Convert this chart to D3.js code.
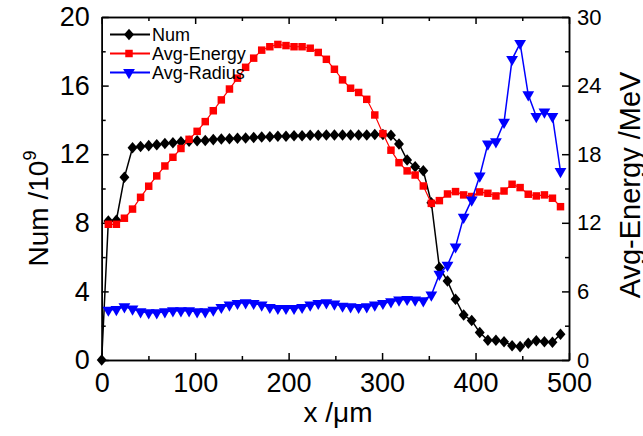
<!DOCTYPE html>
<html>
<head>
<meta charset="utf-8">
<script src="https://cdn.jsdelivr.net/npm/d3@7"></script>
<style>
  body { margin: 0; background: #fff; }
  text { font-family: "Liberation Sans", Arial, sans-serif; }
</style>
</head>
<body>
<div id="chart"></div>
<script>
const width = 643;
const height = 436;

// sample positions (µm)
const xPos = [0, 7.1, 15.7, 24.3, 33.0, 41.6, 50.3, 58.9, 67.6, 76.2, 84.8, 93.5, 102.1, 110.8, 119.4,
    128.0, 136.7, 145.3, 154.0, 162.6, 171.2, 179.9, 188.5, 197.2, 205.8, 214.4, 223.1, 231.7, 240.4,
    249.0, 257.7, 266.3, 274.9, 283.6, 292.2, 300.9, 309.5, 318.1, 326.8, 335.4, 344.1, 352.7, 361.3,
    370.0, 378.6, 387.3, 395.9, 404.5, 413.2, 421.8, 430.5, 439.1, 447.7, 456.4, 465.0, 473.7, 482.3, 490.9];

// Num /10^9 (left axis), starts at x = 0
const numValues = [0, 8.1, 8.15, 10.65, 12.38, 12.45, 12.5, 12.55, 12.62, 12.67, 12.72, 12.76, 12.78,
    12.8, 12.85, 12.88, 12.9, 12.93, 12.95, 12.98, 13.0, 13.02, 13.05, 13.05, 13.07, 13.08, 13.1, 13.1,
    13.12, 13.12, 13.12, 13.12, 13.12, 13.12, 13.15, 13.15, 13.1, 12.6, 11.66, 11.27, 11.04, 9.17, 5.4,
    4.6, 3.54, 2.62, 2.3, 1.6, 1.15, 1.15, 1.07, 0.83, 0.78, 0.98, 1.12, 1.07, 1.03, 1.5];

// Avg-Energy /MeV (right axis), starts at the second sample
const energyValues = [11.87, 11.87, 12.4, 13.2, 14.23, 15.2, 16.1, 16.97, 17.73, 18.5, 19.3, 20.0,
    20.85, 21.8, 22.75, 23.7, 24.65, 25.6, 26.4, 27.1, 27.4, 27.6, 27.5, 27.4, 27.4, 27.27, 26.9, 26.3,
    25.43, 24.5, 23.77, 23.4, 22.8, 21.43, 19.8, 18.35, 17.26, 16.54, 16.18, 15.22, 13.7, 13.94, 14.52,
    14.73, 14.44, 14.3, 14.7, 14.58, 14.35, 14.78, 15.37, 15.08, 14.5, 14.35, 14.44, 14.15, 13.41];

// Avg-Radius (drawn against the right axis), starts at the second sample
const radiusValues = [4.37, 4.43, 4.66, 4.46, 4.23, 4.14, 4.14, 4.23, 4.31, 4.31, 4.31, 4.23, 4.23,
    4.37, 4.61, 4.81, 4.96, 5.02, 4.96, 4.81, 4.61, 4.52, 4.52, 4.52, 4.61, 4.81, 4.96, 5.02, 4.9, 4.72,
    4.67, 4.61, 4.67, 4.81, 4.96, 5.1, 5.25, 5.31, 5.25, 5.19, 5.69, 7.5, 8.3, 9.9, 12.5, 14.0, 16.1,
    18.9, 19.1, 20.8, 26.3, 27.7, 23.2, 21.3, 21.7, 21.3, 16.5];

const xTicks = [0, 100, 200, 300, 400, 500];
const leftTicks = [0, 4, 8, 12, 16, 20];
const rightTicks = [0, 6, 12, 18, 24, 30];
const legendNames = ["Num", "Avg-Energy", "Avg-Radius"];

const margin = { left: 101.7, right: 569, top: 17, bottom: 360 };

const svg = d3.select("#chart").append("svg")
    .attr("width", width)
    .attr("height", height);

const x = d3.scaleLinear().domain([0, 500]).range([margin.left, margin.right]);
const yL = d3.scaleLinear().domain([0, 20]).range([margin.bottom, margin.top]);
const yR = d3.scaleLinear().domain([0, 30]).range([margin.bottom, margin.top]);

const numData = numValues.map((v, i) => ({ x: xPos[i], y: v }));
const energyData = energyValues.map((v, i) => ({ x: xPos[i + 1], y: v }));
const radiusData = radiusValues.map((v, i) => ({ x: xPos[i + 1], y: v }));

// axes (ticks inward)
function minorOf(ticks) {
    const out = [];
    for (let i = 0; i < ticks.length - 1; i++) out.push((ticks[i] + ticks[i + 1]) / 2);
    return out;
}

const axisW = 1.5;
const fontTick = 27;

svg.append("g").attr("transform", `translate(0,${margin.bottom})`)
    .call(d3.axisBottom(x).tickValues(xTicks).tickSize(-7).tickPadding(13).tickSizeOuter(0))
    .call(g => g.selectAll("text").style("font-size", fontTick + "px"));
svg.append("g").attr("transform", `translate(0,${margin.bottom})`)
    .call(d3.axisBottom(x).tickValues(minorOf(xTicks)).tickSize(-4).tickFormat("").tickSizeOuter(0));
svg.append("g").attr("transform", `translate(0,${margin.top})`)
    .call(d3.axisTop(x).tickValues(xTicks).tickSize(-7).tickFormat("").tickSizeOuter(0));
svg.append("g").attr("transform", `translate(0,${margin.top})`)
    .call(d3.axisTop(x).tickValues(minorOf(xTicks)).tickSize(-4).tickFormat("").tickSizeOuter(0));

svg.append("g").attr("transform", `translate(${margin.left},0)`)
    .call(d3.axisLeft(yL).tickValues(leftTicks).tickSize(-7).tickPadding(12).tickSizeOuter(0))
    .call(g => g.selectAll("text").style("font-size", fontTick + "px"));
svg.append("g").attr("transform", `translate(${margin.left},0)`)
    .call(d3.axisLeft(yL).tickValues(minorOf(leftTicks)).tickSize(-4).tickFormat("").tickSizeOuter(0));

svg.append("g").attr("transform", `translate(${margin.right},0)`)
    .call(d3.axisRight(yR).tickValues(rightTicks).tickSize(-7).tickPadding(8).tickSizeOuter(0))
    .call(g => g.selectAll("text").style("font-size", "22px"));
svg.append("g").attr("transform", `translate(${margin.right},0)`)
    .call(d3.axisRight(yR).tickValues(minorOf(rightTicks)).tickSize(-4).tickFormat("").tickSizeOuter(0));

svg.selectAll(".domain").attr("stroke-width", axisW);
svg.selectAll(".tick line").attr("stroke-width", axisW);
svg.selectAll(".tick text").attr("fill", "#000");

// axis titles
svg.append("text")
    .attr("transform", `translate(48,${(margin.top + margin.bottom) / 2 + 20}) rotate(-90)`)
    .attr("text-anchor", "middle")
    .style("font-size", "28px")
    .text("Num /10")
    .append("tspan").attr("dy", -12).style("font-size", "18px").text("9");

svg.append("text")
    .attr("x", 338).attr("y", 422)
    .attr("text-anchor", "middle")
    .style("font-size", "28px")
    .text("x /\u03bcm");

svg.append("text")
    .attr("transform", `translate(640,185) rotate(-90)`)
    .attr("text-anchor", "middle")
    .style("font-size", "29px")
    .text("Avg-Energy /MeV");

// series
const diamondType = {
    draw(ctx, size) {
        const w = Math.sqrt(size) * 0.62, h = Math.sqrt(size) * 0.72;
        ctx.moveTo(0, -h); ctx.lineTo(w, 0); ctx.lineTo(0, h); ctx.lineTo(-w, 0); ctx.closePath();
    }
};
const diamond = d3.symbol().type(diamondType).size(64);
const square = d3.symbol().type(d3.symbolSquare).size(56);
const triangle = d3.symbol().type(d3.symbolTriangle).size(60);

const series = [
    { data: numData, y: yL, color: "#000000", sym: diamond, rot: 0, lw: 1.5, name: legendNames[0] },
    { data: energyData, y: yR, color: "#ff0000", sym: square, rot: 0, lw: 1.2, name: legendNames[1] },
    { data: radiusData, y: yR, color: "#0000ff", sym: triangle, rot: 180, lw: 1.5, name: legendNames[2] }
];

series.forEach(s => {
    const line = d3.line().x(d => x(d.x)).y(d => s.y(d.y));
    svg.append("path")
        .datum(s.data)
        .attr("fill", "none")
        .attr("stroke", s.color)
        .attr("stroke-width", s.lw)
        .attr("d", line);
    svg.append("g")
        .selectAll("path")
        .data(s.data)
        .enter().append("path")
        .attr("d", s.sym)
        .attr("fill", s.color)
        .attr("transform", d => `translate(${x(d.x)},${s.y(d.y)}) rotate(${s.rot})`);
});

// legend
const legend = svg.append("g");
series.forEach((s, i) => {
    const ly = 34.5 + i * 19;
    legend.append("line")
        .attr("x1", 110).attr("x2", 150)
        .attr("y1", ly).attr("y2", ly)
        .attr("stroke", s.color).attr("stroke-width", 1.8);
    legend.append("path")
        .attr("d", s.sym)
        .attr("fill", s.color)
        .attr("transform", `translate(129,${ly}) rotate(${s.rot})`);
    legend.append("text")
        .attr("x", 152).attr("y", ly + 6.5)
        .style("font-size", "18px")
        .text(s.name);
});
</script>
</body>
</html>
